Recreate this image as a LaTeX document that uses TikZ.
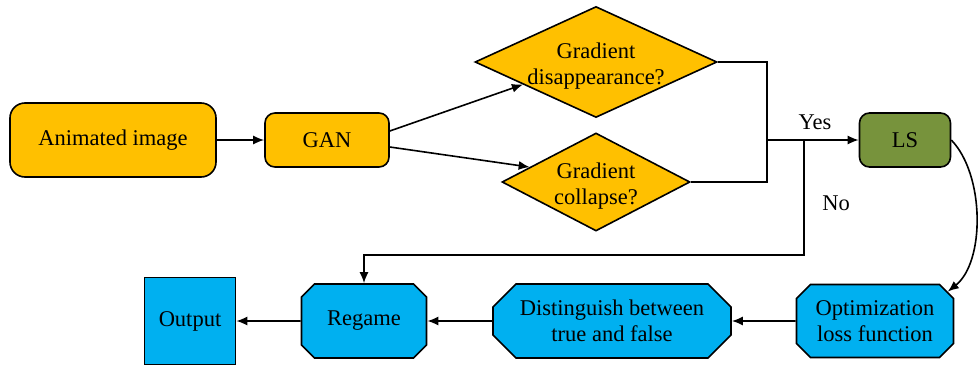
\documentclass[tikz,border=0pt]{standalone}
\usepackage{fontspec}
\setmainfont{Liberation Serif}
\newfontfamily\labelfont{Liberation Serif}
\usetikzlibrary{shapes.geometric,shapes.misc,arrows.meta,calc}

\definecolor{gold}{HTML}{FFC000}
\definecolor{sky}{HTML}{00B0F0}
\definecolor{olive}{HTML}{77933C}

\tikzset{
  txt/.style={font=\labelfont\fontsize{22.5}{26}\selectfont, inner sep=0pt},
  box/.style={txt, draw, line width=1.6pt, rounded corners=10pt, fill=gold},
  dia/.style={draw, line width=1.6pt, diamond, fill=gold, inner sep=0pt},
  octa/.style={txt, draw, line width=1.6pt, chamfered rectangle, fill=sky, align=center},
  conn/.style={line width=1.6pt},
  arr/.style={conn, -{Latex[length=11pt,width=9pt]}},
}

\begin{document}
\begin{tikzpicture}[x=1pt, y=-1pt]
  \useasboundingbox (0,0) rectangle (980,367);

  % top row
  \node[box, rounded corners=15pt, minimum width=206, minimum height=74] (anim) at (113,140) {Animated image};
  \node[box, minimum width=124, minimum height=54] (gan) at (327,140) {GAN};

  \node[dia, minimum width=242, minimum height=111] (d1) at (596,62) {};
  \node[txt, align=center] (d1t) at (596,66) {Gradient\\disappearance?};
  \node[dia, minimum width=188, minimum height=98] (d2) at (596,182) {};
  \node[txt, align=center] (d2t) at (596,186) {Gradient\\collapse?};

  \node[box, fill=olive, minimum width=91, minimum height=54] (ls) at (905,140) {LS};

  % bottom row
  \node[octa, chamfered rectangle xsep=6pt, chamfered rectangle ysep=8pt,
        minimum width=157, minimum height=73] (opt) at (875,321) {Optimization\\loss function};
  \node[octa, chamfered rectangle xsep=11pt, chamfered rectangle ysep=12pt,
        minimum width=238, minimum height=74] (dist) at (612,321) {Distinguish between\\true and false};
  \node[octa, chamfered rectangle xsep=6pt, chamfered rectangle ysep=7pt,
        minimum width=125, minimum height=74] (regame) at (364,321) {Regame};
  \node[txt, draw, line width=1.6pt, fill=sky, minimum width=91, minimum height=87] (out) at (190,321) {Output};

  % junction points
  \coordinate (jx) at (767,140);
  \coordinate (jn) at (804,140);
  \coordinate (nb) at (804,255);

  % connectors
  \draw[arr] (anim) -- (gan);
  \draw[arr] ([yshift=9pt]gan.east) -- ($(d1.west)!0.4!(d1.south)$);
  \draw[arr] ([yshift=-7pt]gan.east) -- ($(d2.west)!0.3!(d2.north)$);
  \draw[conn] (d1.east) -| (jx) |- (d2.east);
  \draw[arr] (jx) -- (ls.west);
  \draw[arr] (jn) -- (nb) -| (regame.north);
  \draw[arr] (ls.east) .. controls (985,175) and (985,262) .. (opt.22);
  \draw[arr] (opt) -- (dist);
  \draw[arr] (dist) -- (regame);
  \draw[arr] (regame) -- (out);

  \node[txt] (yes) at (815,122) {Yes};
  \node[txt] (no) at (836,203) {No};
\end{tikzpicture}
\end{document}
